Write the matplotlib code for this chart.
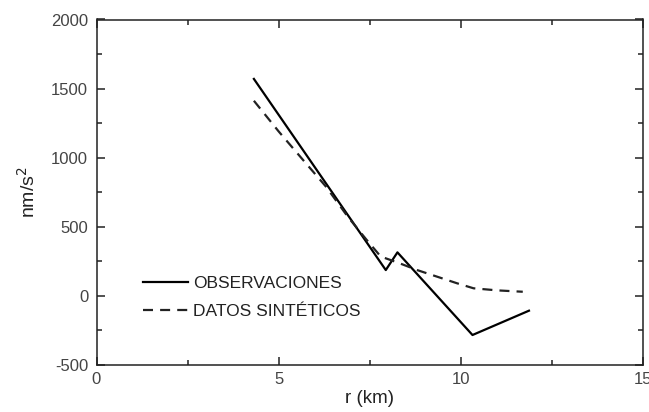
import matplotlib
matplotlib.use('Agg')

import matplotlib.pyplot as plt
from matplotlib.ticker import MultipleLocator

plt.rcParams['font.family'] = ['Liberation Sans', 'DejaVu Sans']
plt.rcParams['axes.unicode_minus'] = False

# ===== 数据 =====
r_obs = [4.32, 7.94, 8.26, 10.32, 11.87]
g_obs = [1570, 187, 315, -283, -107]

r_sint = [4.32, 5.0, 5.6, 6.3, 6.9, 7.4, 7.8, 8.3, 8.8, 9.35, 9.9, 10.35, 11.0, 11.7]
g_sint = [1412, 1190, 1005, 790, 572, 410, 285, 238, 187, 139, 91, 55, 40, 30]

fig = plt.figure(figsize=(6.49, 4.12), dpi=100)
ax = fig.add_axes([96.5 / 649, 1 - 365 / 412, 546.5 / 649, 345.5 / 412])

ax.plot(r_obs, g_obs, color='black', lw=1.6, label='OBSERVACIONES')
ax.plot(r_sint, g_sint, color='#222222', lw=1.6, dashes=(4.5, 3.2),
        label='DATOS SINTÉTICOS')

ax.set_xlim(0, 15)
ax.set_ylim(-500, 2000)
ax.xaxis.set_major_locator(MultipleLocator(5))
ax.xaxis.set_minor_locator(MultipleLocator(2.5))
ax.yaxis.set_major_locator(MultipleLocator(500))
ax.yaxis.set_minor_locator(MultipleLocator(250))

ax.tick_params(which='both', direction='in', top=True, right=True,
               width=1.1, colors='#222222', labelcolor='#444444', labelsize=12)
ax.tick_params(which='major', length=6, pad=6)
ax.tick_params(which='minor', length=3.5)
ax.tick_params(axis='x', which='major', pad=5)
for s in ax.spines.values():
    s.set_linewidth(1.1)
    s.set_color('#222222')

ax.set_xlabel('r (km)', fontsize=13.5, color='#222222', labelpad=2)
ax.set_ylabel('nm/s$^2$', fontsize=14, color='#222222', labelpad=9)

ax.legend(loc='upper left', bbox_to_anchor=(0.085, 0.258), frameon=False,
          fontsize=12.5, handlelength=2.6, handletextpad=0.3, labelspacing=0.75,
          borderpad=0, borderaxespad=0, labelcolor='#222222')

plt.savefig('out.png', dpi=100)
